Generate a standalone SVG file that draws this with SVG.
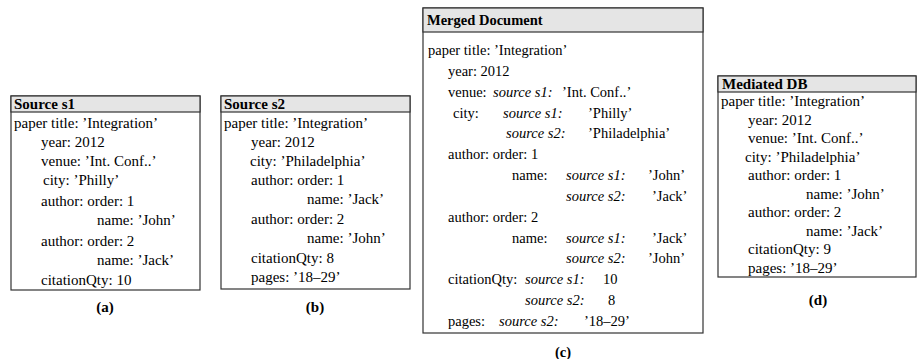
<svg xmlns="http://www.w3.org/2000/svg" width="919" height="359" viewBox="0 0 919 359">
  <style>
    text { font-family: "Liberation Serif", "Times New Roman", serif; font-size: 15px; fill: #000; }
    #merged-document text { font-size: 14.5px; }
    .hd { font-weight: bold; }
    .src { font-style: italic; }
    .cap { font-weight: bold; text-anchor: middle; }
    .box { fill: #fff; stroke: #333; stroke-width: 1.2; }
    .bar { fill: #e5e5e5; stroke: #333; stroke-width: 1.2; }
  </style>
  <rect width="919" height="359" fill="#fff"/>

  <!-- (a) first source -->
  <g id="source-s1">
    <rect class="box" x="11" y="96" width="189" height="194"/>
    <rect class="bar" x="11" y="96" width="189" height="16"/>
    <text class="hd" x="14" y="109">Source s1</text>
    <text x="14" y="128">paper title: ’Integration’</text>
    <text x="41" y="147">year: 2012</text>
    <text x="41" y="166">venue: ’Int. Conf..’</text>
    <text x="43" y="185">city: ’Philly’</text>
    <text x="41" y="206">author: order: 1</text>
    <text x="97" y="225">name: ’John’</text>
    <text x="41" y="246">author: order: 2</text>
    <text x="97" y="265">name: ’Jack’</text>
    <text x="41" y="285">citationQty: 10</text>
    <text class="cap" x="105" y="312">(a)</text>
  </g>

  <!-- (b) second source -->
  <g id="source-s2">
    <rect class="box" x="221" y="96" width="189" height="193"/>
    <rect class="bar" x="221" y="96" width="189" height="16"/>
    <text class="hd" x="224" y="109">Source s2</text>
    <text x="224" y="128">paper title: ’Integration’</text>
    <text x="251" y="147">year: 2012</text>
    <text x="250" y="166">city: ’Philadelphia’</text>
    <text x="251" y="185">author: order: 1</text>
    <text x="307" y="204">name: ’Jack’</text>
    <text x="251" y="224">author: order: 2</text>
    <text x="307" y="243">name: ’John’</text>
    <text x="251" y="263">citationQty: 8</text>
    <text x="251" y="282">pages: ’18–29’</text>
    <text class="cap" x="315" y="312">(b)</text>
  </g>

  <!-- (c) merged document with per-source values -->
  <g id="merged-document">
    <rect class="box" x="423" y="8" width="280" height="325"/>
    <rect class="bar" x="423" y="8" width="280" height="24"/>
    <text class="hd" x="427" y="25">Merged Document</text>
    <text x="428" y="55">paper title: ’Integration’</text>
    <text x="448" y="76">year: 2012</text>
    <text x="448" y="97">venue:</text>
    <text class="src" x="493" y="97">source s1:</text>
    <text x="562" y="97">’Int. Conf..’</text>
    <text x="453" y="118">city:</text>
    <text class="src" x="503" y="118">source s1:</text>
    <text x="588" y="118">’Philly’</text>
    <text class="src" x="506" y="138">source s2:</text>
    <text x="588" y="138">’Philadelphia’</text>
    <text x="448" y="159">author: order: 1</text>
    <text x="512" y="180">name:</text>
    <text class="src" x="566" y="180">source s1:</text>
    <text x="648" y="180">’John’</text>
    <text class="src" x="566" y="201">source s2:</text>
    <text x="652" y="201">’Jack’</text>
    <text x="448" y="222">author: order: 2</text>
    <text x="512" y="243">name:</text>
    <text class="src" x="566" y="243">source s1:</text>
    <text x="652" y="243">’Jack’</text>
    <text class="src" x="566" y="263">source s2:</text>
    <text x="648" y="263">’John’</text>
    <text x="448" y="284">citationQty:</text>
    <text class="src" x="525" y="284">source s1:</text>
    <text x="603" y="284">10</text>
    <text class="src" x="525" y="305">source s2:</text>
    <text x="608" y="305">8</text>
    <text x="448" y="326">pages:</text>
    <text class="src" x="499" y="326">source s2:</text>
    <text x="584" y="326">’18–29’</text>
    <text class="cap" x="563" y="357">(c)</text>
  </g>

  <!-- (d) mediated database -->
  <g id="mediated-db">
    <rect class="box" x="718" y="76" width="198" height="201"/>
    <rect class="bar" x="718" y="76" width="198" height="16"/>
    <text class="hd" x="722" y="89">Mediated DB</text>
    <text x="721" y="106">paper title: ’Integration’</text>
    <text x="748" y="125">year: 2012</text>
    <text x="748" y="143">venue: ’Int. Conf..’</text>
    <text x="745" y="162">city: ’Philadelphia’</text>
    <text x="748" y="180">author: order: 1</text>
    <text x="806" y="199">name: ’John’</text>
    <text x="748" y="217">author: order: 2</text>
    <text x="806" y="236">name: ’Jack’</text>
    <text x="748" y="254">citationQty: 9</text>
    <text x="748" y="273">pages: ’18–29’</text>
    <text class="cap" x="818" y="305">(d)</text>
  </g>
</svg>
